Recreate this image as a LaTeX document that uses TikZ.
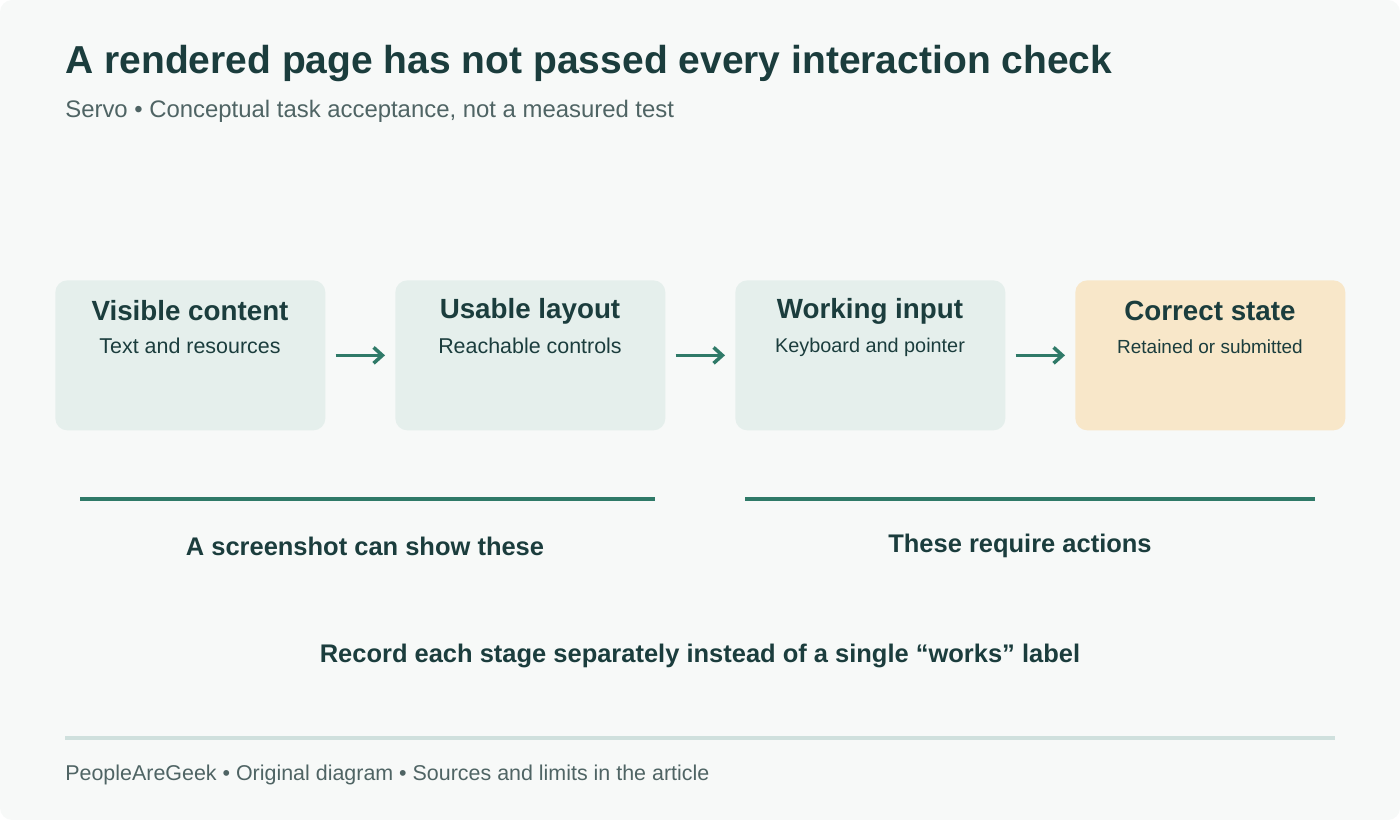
\documentclass[tikz,border=0pt]{standalone}
\usepackage{fontspec}
\setmainfont{Liberation Sans}
\usetikzlibrary{arrows.meta, positioning}
\definecolor{bgpage}{HTML}{F7F9F8}
\definecolor{ink}{HTML}{1B3D3D}
\definecolor{muted}{HTML}{4F6464}
\definecolor{stagefill}{HTML}{E5EFEC}
\definecolor{goalfill}{HTML}{F8E7C9}
\definecolor{teal}{HTML}{2F7A68}
\definecolor{rule}{HTML}{CFE0DD}
\begin{document}
\begin{tikzpicture}[x=0.02cm, y=-0.02cm,
    stage/.style={rectangle, rounded corners=12*0.02cm, fill=stagefill, minimum width=270*0.02cm, minimum height=150*0.02cm, anchor=north west},
    head/.style={font=\fontsize{15.8}{18}\selectfont\bfseries, text=ink},
    sub/.style={font=\fontsize{12.2}{14}\selectfont, text=ink},
    flow/.style={-{Straight Barb[length=5pt, width=9pt]}, line width=2pt, draw=teal, shorten <=10*0.02cm, shorten >=10*0.02cm},
    group/.style={font=\fontsize{14.5}{17}\selectfont\bfseries, text=ink}]
  \useasboundingbox (0,0) rectangle (1400,820);
  \fill[bgpage, rounded corners=12*0.02cm] (0,0) rectangle (1400,820);

  \node[anchor=west, inner sep=0pt, font=\fontsize{22.2}{26}\selectfont\bfseries, text=ink] (title) at (65,64) {A rendered page has not passed every interaction check};
  \node[anchor=west, inner sep=0pt, font=\fontsize{13.6}{16}\selectfont, text=muted] (subtitle) at (65,111) {Servo • Conceptual task acceptance, not a measured test};

  \node[stage] (visible) at (55,280) {};
  \node[stage] (usable) at (395,280) {};
  \node[stage] (working) at (735,280) {};
  \node[stage, fill=goalfill] (correct) at (1075,280) {};

  \node[head] at (190,311) {Visible content};
  \node[sub] at (190,346) {Text and resources};
  \node[head] at (530,311) {Usable layout};
  \node[sub] at (530,346) {Reachable controls};
  \node[head] at (870,311) {Working input};
  \node[sub, font=\fontsize{11.3}{13}\selectfont] at (870,347) {Keyboard and pointer};
  \node[head] at (1210,311) {Correct state};
  \node[sub, font=\fontsize{10.8}{13}\selectfont] at (1210,347) {Retained or submitted};

  \draw[flow] (visible.east) -- (usable.west);
  \draw[flow] (usable.east) -- (working.west);
  \draw[flow] (working.east) -- (correct.west);

  \draw[teal, line width=2pt] (80,499) -- (655,499);
  \draw[teal, line width=2pt] (745,499) -- (1315,499);
  \node[group] (shown) at (365,546) {A screenshot can show these};
  \node[group] (acted) at (1020,546) {These require actions};

  \node[group] (record) at (700,656) {Record each stage separately instead of a single “works” label};

  \draw[rule, line width=2pt] (65,738) -- (1335,738);
  \node[anchor=west, inner sep=0pt, font=\fontsize{12.2}{14}\selectfont, text=muted] (footer) at (65,775) {PeopleAreGeek • Original diagram • Sources and limits in the article};
\end{tikzpicture}
\end{document}
